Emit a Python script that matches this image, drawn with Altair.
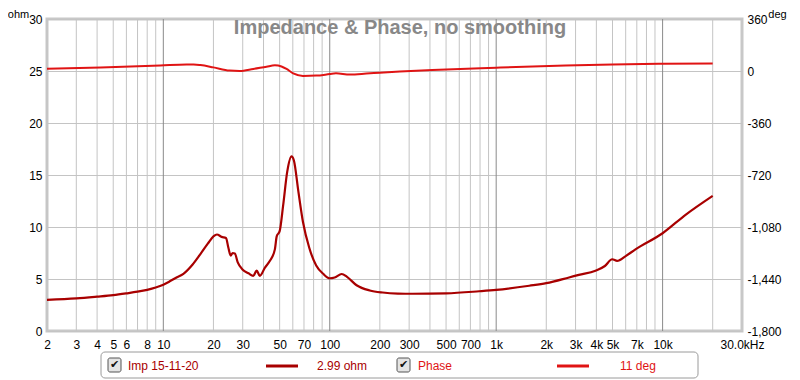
import altair as alt
import pandas as pd

# ---------------- data ----------------
title_text = "Impedance & Phase, no smoothing"

imp_freq = [2, 3, 4, 5, 6, 7, 8, 9, 10, 11, 12, 13.2, 15, 16.7, 18.5, 20, 21, 22.4, 23.8,
            24.6, 25.4, 26.1, 26.9, 28, 30, 32.5, 34.7, 36.4, 38, 40.8, 43.7, 46.8, 48, 50,
            52.5, 55.5, 58.9, 60.9, 64.8, 69, 75.3, 82.9, 91.3, 100, 107, 118, 127, 145, 174,
            208, 257, 315, 500, 791, 1000, 1580, 2000, 2740, 3140, 3950, 4500, 4980, 5330,
            6000, 6870, 10000, 13800, 20000]
imp_ohm = [3.0, 3.13, 3.3, 3.45, 3.62, 3.78, 3.96, 4.18, 4.45, 4.8, 5.15, 5.5, 6.4, 7.4, 8.4,
           9.1, 9.28, 9.05, 8.95, 8.0, 7.25, 7.5, 7.45, 6.6, 5.9, 5.55, 5.3, 5.8, 5.3, 6.1,
           6.75, 7.85, 9.1, 9.6, 12.1, 15.3, 16.8, 16.4, 13.4, 10.5, 8.0, 6.3, 5.5, 5.07, 5.15,
           5.48, 5.2, 4.4, 3.9, 3.7, 3.6, 3.58, 3.62, 3.82, 3.95, 4.35, 4.6, 5.15, 5.4, 5.8,
           6.25, 6.9, 6.74, 7.2, 7.85, 9.4, 11.2, 13.0]

ph_freq = [2, 4.2, 9.6, 13.8, 15.2, 16.7, 20, 25, 28.7, 34.7, 41.7, 46.8, 51.3, 55, 60.3, 69,
           82.9, 100, 109, 132, 166, 200, 264, 414, 1000, 2610, 5000, 10000, 20000]
ph_deg = [16, 25, 38, 45, 45, 41, 25, 3, 0, 14, 30, 39, 31, 14, -16, -34, -32, -21, -16, -24,
          -18, -12, -4, 7, 23, 38, 45, 50, 52]

x_ticks = [2, 3, 4, 5, 6, 8, 10, 20, 30, 50, 70, 100, 200, 300, 500, 700,
           1000, 2000, 3000, 4000, 5000, 7000, 10000, 30000]
minor_grid = [2, 3, 4, 5, 6, 7, 8, 9, 20, 30, 40, 50, 60, 70, 80, 90,
              200, 300, 400, 500, 600, 700, 800, 900,
              2000, 3000, 4000, 5000, 6000, 7000, 8000, 9000, 20000]
decade_grid = [10, 100, 1000, 10000]
ohm_ticks = [0, 5, 10, 15, 20, 25, 30]
deg_ticks = [-1800, -1440, -1080, -720, -360, 0, 360]

legend_labels = ["Imp 15-11-20", "2.99 ohm", "Phase", "11 deg"]

IMP_COLOR = "#a80000"
PH_COLOR = "#e01414"
FONT = "Liberation Sans"

# ---------------- chart ----------------
W, H = 695, 312
xscale = alt.Scale(type="log", domain=[2, 30000], nice=False)
xaxis = alt.Axis(
    values=x_ticks, title=None, grid=False, ticks=False, domain=False,
    labelFlush=False, labelPadding=8, labelFontSize=12, labelFont=FONT,
    labelColor="#000000",
    labelExpr="datum.value >= 30000 ? '30.0kHz' : (datum.value >= 1000 ? (datum.value/1000) + 'k' : datum.value + '')",
)

grid_minor = alt.Chart(pd.DataFrame({"f": minor_grid})).mark_rule(
    color="#c4c4c4", strokeWidth=1
).encode(x=alt.X("f:Q", scale=xscale, axis=xaxis))

grid_major = alt.Chart(pd.DataFrame({"f": decade_grid})).mark_rule(
    color="#8a8a8a", strokeWidth=1
).encode(x=alt.X("f:Q", scale=xscale, axis=xaxis))

imp = alt.Chart(pd.DataFrame({"f": imp_freq, "ohm": imp_ohm})).mark_line(
    color=IMP_COLOR, strokeWidth=2.2, interpolate="monotone"
).encode(
    x=alt.X("f:Q", scale=xscale, axis=xaxis),
    y=alt.Y("ohm:Q", scale=alt.Scale(domain=[0, 30], nice=False, zero=False), axis=alt.Axis(
        orient="left", values=ohm_ticks, grid=True, gridColor="#c4c4c4", ticks=False,
        domain=False, labelPadding=5, labelFontSize=12, labelFont=FONT, labelColor="#000000",
        title="ohm", titleAngle=0, titleX=-29, titleY=-2, titleAlign="center",
        titleBaseline="alphabetic", titleFontWeight="normal", titleFontSize=11,
        titleFont=FONT, titleColor="#000000",
    )),
)

phase = alt.Chart(pd.DataFrame({"f": ph_freq, "deg": ph_deg})).mark_line(
    color=PH_COLOR, strokeWidth=2, interpolate="monotone"
).encode(
    x=alt.X("f:Q", scale=xscale, axis=xaxis),
    y=alt.Y("deg:Q", scale=alt.Scale(domain=[-1800, 360], nice=False, zero=False), axis=alt.Axis(
        orient="right", values=deg_ticks, grid=False, ticks=False, domain=False,
        labelPadding=5, labelFontSize=12, labelFont=FONT, labelColor="#000000",
        labelExpr="datum.value < 0 ? '-' + format(-datum.value, ',') : format(datum.value, ',')",
        title="deg", titleAngle=0, titleX=35, titleY=-2, titleAlign="center",
        titleBaseline="alphabetic", titleFontWeight="normal", titleFontSize=11,
        titleFont=FONT, titleColor="#000000",
    )),
)

title = alt.Chart(pd.DataFrame({"t": [title_text]})).mark_text(
    font=FONT, fontSize=20, fontWeight="bold", color="#888888", align="center", baseline="middle"
).encode(x=alt.value(353), y=alt.value(9), text="t:N")

# legend (positions relative to plot origin)
LY = 331 - 19  # plot bottom in plot coords
one = pd.DataFrame({"a": [0]})
legend_box = alt.Chart(one).mark_rect(
    fill="#ffffff", stroke="#9a9a9a", strokeWidth=1, cornerRadius=4
).encode(x=alt.value(54), x2=alt.value(651), y=alt.value(LY + 21), y2=alt.value(LY + 47))

check_boxes = []
for cx in (61, 350):
    check_boxes.append(alt.Chart(one).mark_rect(
        fill="#e4e4e4", stroke="#555555", strokeWidth=1, cornerRadius=2
    ).encode(x=alt.value(cx), x2=alt.value(cx + 13), y=alt.value(LY + 27), y2=alt.value(LY + 41)))
    check_boxes.append(alt.Chart(pd.DataFrame({"t": ["\u2714"]})).mark_text(
        font="DejaVu Sans", fontSize=11, color="#111111", align="center", baseline="middle"
    ).encode(x=alt.value(cx + 6.5), y=alt.value(LY + 34), text="t:N"))

def legend_text(label, xpos, color):
    return alt.Chart(pd.DataFrame({"t": [label]})).mark_text(
        font=FONT, fontSize=12, color=color, align="left", baseline="middle"
    ).encode(x=alt.value(xpos), y=alt.value(LY + 35), text="t:N")

leg_imp_line = alt.Chart(one).mark_rule(color=IMP_COLOR, strokeWidth=3).encode(
    x=alt.value(219), x2=alt.value(251), y=alt.value(LY + 35))
leg_ph_line = alt.Chart(one).mark_rule(color=PH_COLOR, strokeWidth=3).encode(
    x=alt.value(510), x2=alt.value(542), y=alt.value(LY + 35))

chart = alt.layer(
    grid_minor, grid_major, imp, phase, title, legend_box, *check_boxes,
    legend_text(legend_labels[0], 81, IMP_COLOR), leg_imp_line,
    legend_text(legend_labels[1], 270, IMP_COLOR),
    legend_text(legend_labels[2], 371, PH_COLOR), leg_ph_line,
    legend_text(legend_labels[3], 573, PH_COLOR),
).resolve_scale(y="independent").properties(
    width=W, height=H,
    autosize=alt.AutoSizeParams(type="none"),
    padding={"left": 39, "top": 11, "right": 50, "bottom": 49},
    background="#ffffff",
).configure_view(stroke="#c8c8c8", strokeWidth=3)

chart.save("out.html", embed_options={"renderer": "svg", "actions": False})
